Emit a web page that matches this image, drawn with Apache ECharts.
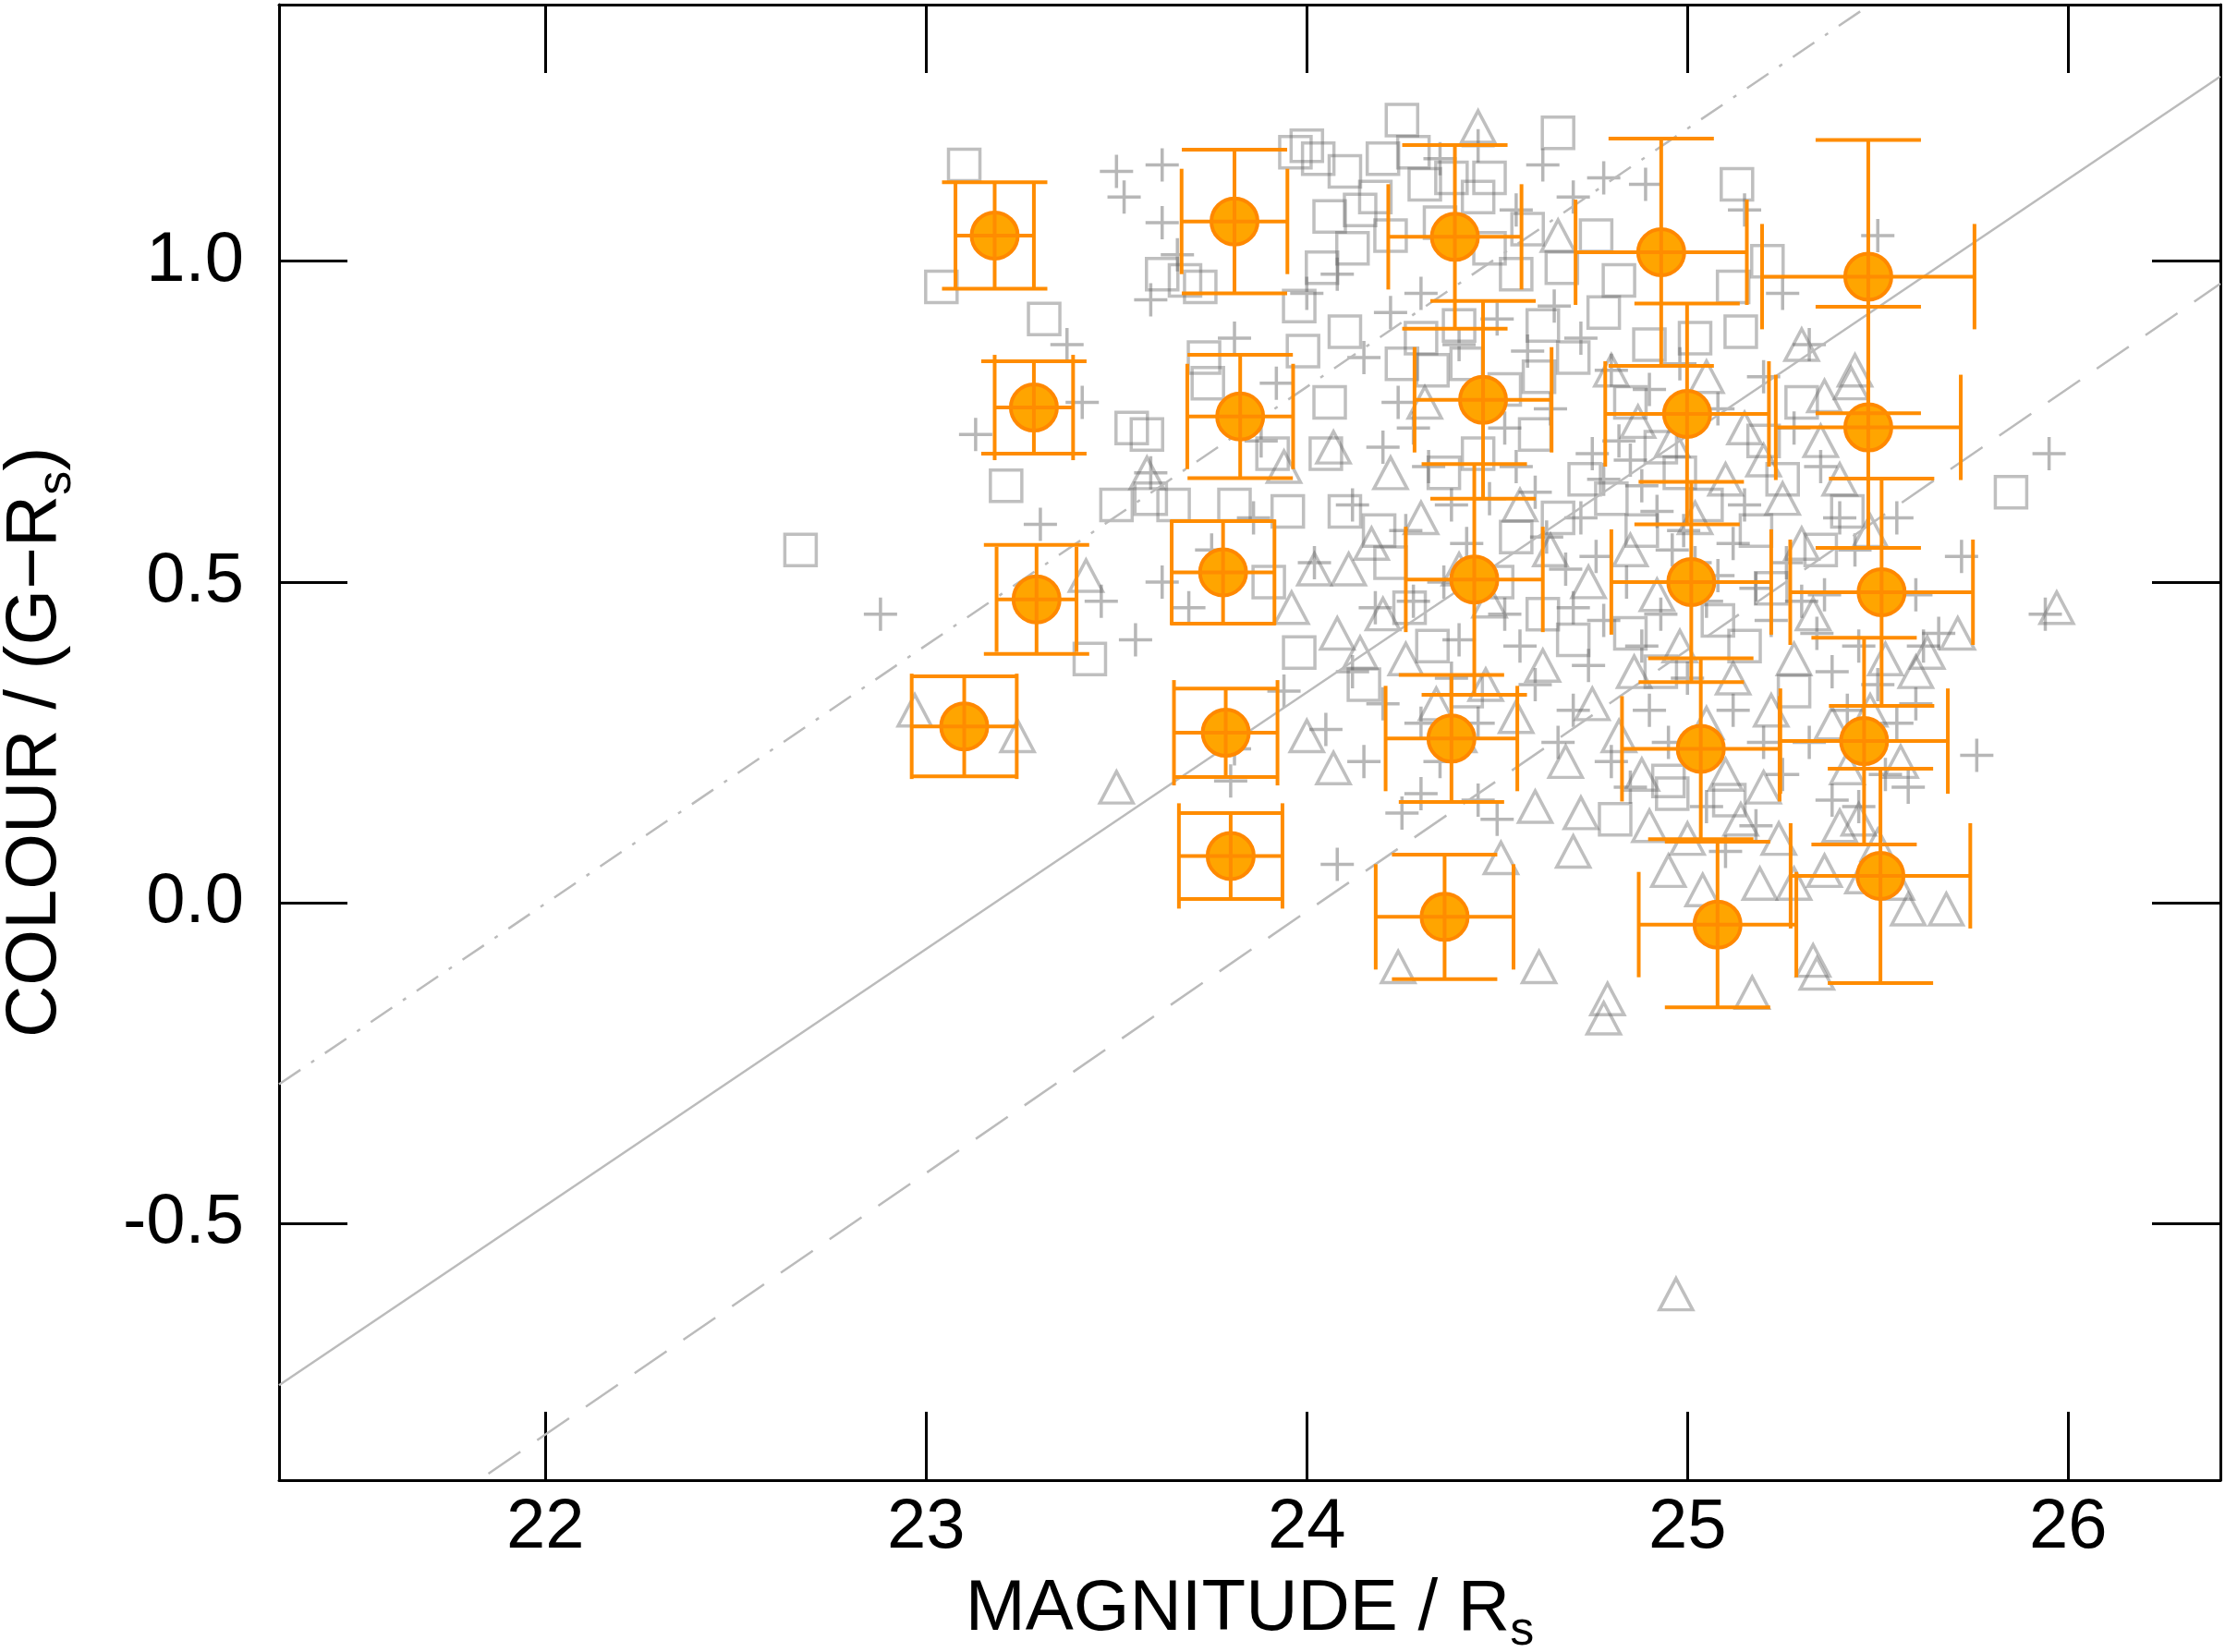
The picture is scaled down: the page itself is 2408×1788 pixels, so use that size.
<!DOCTYPE html>
<html>
<head>
<meta charset="utf-8">
<script src="https://cdn.jsdelivr.net/npm/echarts@6.0.0/dist/echarts.min.js"></script>
<style>
  html,body{margin:0;padding:0;background:#fff;}
  #main{width:2408px;height:1788px;}
</style>
</head>
<body>
<div id="main"></div>
<script>
// axis ticks
var xTicks = [22, 23, 24, 25, 26];
var yTicks = [-0.5, 0.0, 0.5, 1.0];

// highlighted sample (orange) with errors
var magX = [23.18, 23.81, 24.389, 24.931, 25.475, 23.283, 23.825, 24.463, 24.999, 25.475, 23.29, 23.78, 24.44, 25.01, 25.51, 23.10, 23.787, 24.38, 25.035, 25.464, 23.80, 24.362, 25.079, 25.507];
var colY = [1.04, 1.062, 1.038, 1.014, 0.976, 0.772, 0.758, 0.784, 0.762, 0.741, 0.473, 0.515, 0.504, 0.50, 0.484, 0.275, 0.265, 0.256, 0.24, 0.252, 0.073, -0.022, -0.034, 0.042];
var errX = [0.103, 0.139, 0.175, 0.225, 0.279, 0.103, 0.139, 0.18, 0.215, 0.243, 0.105, 0.135, 0.18, 0.21, 0.24, 0.138, 0.136, 0.173, 0.207, 0.22, 0.136, 0.181, 0.207, 0.236];
var errY = [0.083, 0.112, 0.143, 0.177, 0.213, 0.072, 0.096, 0.154, 0.172, 0.188, 0.085, 0.08, 0.18, 0.156, 0.177, 0.078, 0.069, 0.099, 0.141, 0.161, 0.067, 0.097, 0.129, 0.167];

// background samples
var squares = [[23.10,1.15],[23.04,0.96],[23.31,0.91],[23.21,0.65],[22.67,0.55],[23.43,0.38],
  [23.62,0.98],[23.68,0.97],[23.72,0.96],[23.74,0.81],[23.73,0.85],[23.65,0.62],[23.50,0.62],[23.59,0.63],[23.58,0.73],[23.54,0.74],[23.91,0.70],[23.81,0.62],[23.95,0.61],
  [23.97,1.17],[24.00,1.18],[24.10,1.14],[24.20,1.16],[24.14,1.08],[24.06,1.07],[24.25,1.22],[24.31,1.12],[24.38,1.13],[24.48,1.13],[24.48,1.02],[24.66,1.20],[24.18,1.10],[24.03,1.16],[24.28,1.17],[24.35,1.06],[24.45,1.10],[24.12,1.02],[24.22,1.04],[24.58,1.05],[24.55,0.98],[24.67,0.99],[24.76,1.04],
  [25.13,1.12],[25.21,1.00],[25.12,0.96],[25.14,0.89],[24.82,0.97],[24.78,0.92],[24.04,0.99],[23.98,0.93],[24.06,0.78],[23.99,0.86],[24.10,0.89],[24.30,0.88],[24.33,0.83],[24.25,0.84],[24.42,0.84],
  [24.10,0.61],[24.19,0.58],[24.22,0.53],[24.36,0.67],[24.45,0.70],[24.52,0.80],[24.61,0.82],[24.70,0.85],[24.85,0.78],[24.93,0.71],[24.98,0.67],[24.60,0.73],[24.73,0.66],[24.66,0.60],[24.55,0.57],[24.80,0.63],[24.88,0.58],[25.05,0.62],[25.20,0.72],[25.25,0.66],[25.30,0.78],[25.18,0.58],[24.40,0.90],[24.62,0.90],[24.90,0.87],[25.02,0.88],
  [24.50,0.50],[24.62,0.45],[24.70,0.41],[24.85,0.42],[24.93,0.36],[25.08,0.44],[25.15,0.40],[25.22,0.49],[25.35,0.55],[25.42,0.61],[25.28,0.33],
  [24.81,0.13],[24.95,0.19],[24.96,0.17],[25.11,0.16],[25.85,0.64],[24.27,0.46],[24.33,0.40],[24.15,0.34],[24.42,0.33],[23.98,0.39],[23.90,0.50],[24.05,0.70]];

var pluses = [[22.88,0.45],[23.30,0.59],[23.37,0.87],[23.13,0.73],[23.41,0.78],[23.50,1.14],[23.52,1.10],[23.62,1.15],[23.62,1.06],[23.59,0.94],[23.66,1.01],[23.59,0.67],[23.69,0.46],[23.75,0.55],[23.81,0.88],[23.80,0.19],[23.81,0.24],[24.08,0.06],
  [23.46,0.47],[23.55,0.41],[23.62,0.50],[23.88,0.72],[23.92,0.81],[23.86,0.60],[23.94,0.33],[24.02,0.53],[24.05,0.27],[24.12,0.36],[24.15,0.22],[24.20,0.31],[24.25,0.14],[24.30,0.17],[24.35,0.22],[24.45,0.16],[24.50,0.13],[24.38,0.35],[24.28,0.47],[24.18,0.46],
  [24.12,0.62],[24.20,0.71],[24.24,0.78],[24.28,0.74],[24.32,0.68],[24.38,0.62],[24.42,0.56],[24.48,0.63],[24.55,0.68],[24.60,0.64],[24.63,0.57],[24.68,0.52],[24.72,0.60],[24.75,0.70],[24.78,0.66],[24.82,0.72],[24.85,0.69],[24.88,0.65],[24.92,0.61],[24.96,0.55],[24.99,0.58],
  [25.02,0.53],[25.05,0.47],[25.08,0.51],[25.12,0.56],[25.15,0.62],[25.18,0.49],[25.22,0.44],[25.26,0.53],[25.30,0.47],[25.34,0.42],[25.38,0.36],[25.42,0.30],[25.45,0.40],[25.50,0.34],[25.55,0.28],[25.60,0.31],[25.66,0.42],[25.72,0.54],[25.76,0.23],[25.95,0.70],[25.94,0.45],
  [25.50,1.04],[25.15,1.08],[24.89,1.12],[24.78,1.13],[24.70,1.10],[24.62,1.15],[24.55,1.08],[24.45,1.18],[24.35,1.16],[24.30,0.95],[24.22,0.92],[24.15,0.85],[24.00,0.95],[24.08,0.98],[24.40,0.87],[24.50,0.91],[24.58,0.86],[24.65,0.93],[24.72,0.88],[24.80,0.83],
  [24.90,0.80],[24.98,0.84],[25.08,0.77],[25.20,0.82],[25.28,0.74],[25.35,0.68],[25.40,0.60],[25.32,0.87],[25.25,0.95],[24.84,0.50],[24.78,0.44],[24.74,0.37],[24.70,0.30],[24.66,0.25],[24.60,0.34],[24.56,0.40],[24.52,0.45],[24.90,0.30],[24.95,0.25],[25.00,0.35],
  [25.05,0.15],[25.10,0.08],[25.18,0.12],[25.25,0.20],[25.32,0.25],[25.45,0.15],[25.52,0.20],[24.85,0.18],[24.80,0.22],[24.40,0.41],[24.45,0.28],[24.88,0.40],[25.12,0.30],[25.20,0.25],[25.36,0.48],[25.44,0.55],[25.60,0.48],[25.55,0.60],[24.64,0.77],[24.52,0.74],
  [24.36,0.50],[24.26,0.58],[24.70,0.46],[24.76,0.54],[25.58,0.18],[25.62,0.40],[25.38,0.16],[24.30,0.28],[24.93,0.45]];

var triangles = [[22.97,0.30],[23.24,0.26],[23.50,0.18],[24.00,0.26],[24.07,0.21],[24.45,1.21],[24.24,-0.10],[24.61,-0.10],[24.51,0.07],[24.60,0.15],[24.72,0.14],[24.78,-0.18],[24.79,-0.15],[24.97,-0.61],[25.17,-0.14],[25.19,0.03],[25.33,-0.09],[25.34,-0.11],[25.68,-0.01],
  [25.97,0.46],[25.71,0.42],[25.63,0.39],[25.60,0.36],[25.44,0.83],[25.43,0.81],[25.30,0.87],[25.05,0.82],[24.66,1.04],[24.80,0.83],[24.87,0.75],[24.07,0.71],[23.94,0.68],[23.58,0.67],[23.42,0.51],[24.11,0.52],[24.17,0.56],[24.31,0.78],
  [24.08,0.42],[24.14,0.39],[24.20,0.45],[24.26,0.38],[24.34,0.31],[24.40,0.26],[24.47,0.34],[24.55,0.29],[24.62,0.37],[24.68,0.22],[24.75,0.31],[24.82,0.26],[24.86,0.36],[24.90,0.12],[24.95,0.05],[25.00,0.10],[25.04,0.02],[25.10,0.20],[25.14,0.13],[25.20,0.18],
  [25.24,0.10],[25.28,0.03],[25.36,0.05],[25.40,0.12],[25.46,0.04],[25.50,0.09],[25.55,0.03],[25.58,-0.01],[25.22,0.30],[25.28,0.38],[25.33,0.45],[25.38,0.28],[25.42,0.21],[25.48,0.30],[25.52,0.38],[25.56,0.22],[25.30,0.56],[25.25,0.63],[25.20,0.69],
  [25.15,0.74],[25.10,0.66],[25.02,0.60],[24.96,0.72],[25.35,0.72],[25.40,0.66],[25.48,0.58],[25.36,0.79],[24.85,0.55],[24.92,0.48],[24.98,0.40],[24.74,0.50],[24.64,0.55],[24.56,0.62],[24.48,0.47],[24.40,0.52],[24.30,0.60],[24.22,0.67],[24.02,0.52],[23.96,0.46],
  [25.05,0.28],[25.12,0.35],[25.45,0.13],[24.88,0.20],[24.70,0.08]];

// reference lines (end points)
var lineSolid = [[21.3, -0.752], [26.4, 1.288]];
var lineDash = [[21.85, -0.89], [26.4, 0.965]];
var lineDashDot = [[21.3, -0.283], [25.48, 1.4]];

var FONT = 'Liberation Sans';
var grey = 'rgba(100,100,100,0.52)';
var plusGrey = 'rgba(90,90,90,0.55)';
var lineGrey = '#bbbbbb';

var myChart = echarts.init(document.getElementById('main'));

function axisX(pos, show){
  return {
    type: 'value', position: pos, min: 21.3, max: 26.4,
    axisLine: {onZero: false, lineStyle: {color: '#000', width: 3}},
    axisTick: {inside: true, length: 74, customValues: xTicks, lineStyle: {color: '#000', width: 3}},
    axisLabel: {show: show, customValues: xTicks, margin: 14, fontSize: 76, color: '#000', fontFamily: FONT},
    splitLine: {show: false}
  };
}
function axisY(pos, show){
  return {
    type: 'value', position: pos, min: -0.9, max: 1.4,
    axisLine: {onZero: false, lineStyle: {color: '#000', width: 3}},
    axisTick: {inside: true, length: 74, customValues: yTicks, lineStyle: {color: '#000', width: 3}},
    axisLabel: {show: show, customValues: yTicks, margin: 38, fontSize: 76, color: '#000', fontFamily: FONT,
      formatter: function(v){ return v.toFixed(1); }},
    splitLine: {show: false}
  };
}

var xb = axisX('bottom', true);
xb.name = 'MAGNITUDE / R{s|s}';
xb.nameLocation = 'middle';
xb.nameGap = 90;
xb.nameMoveOverlap = false;
xb.nameTextStyle = {fontSize: 78, color: '#000', fontFamily: FONT,
  rich: {s: {fontSize: 52, color: '#000', fontFamily: FONT, padding: [48, 0, 0, 0]}}};
var xt = axisX('top', false);

var yl = axisY('left', true);
yl.name = 'COLOUR / (G\u2212R{s|s})';
yl.nameLocation = 'middle';
yl.nameGap = 214;
yl.nameMoveOverlap = false;
yl.nameTextStyle = {fontSize: 78, color: '#000', fontFamily: FONT,
  rich: {s: {fontSize: 52, color: '#000', fontFamily: FONT, padding: [48, 0, 0, 0]}}};
var yr = axisY('right', false);

var orangeData = magX.map(function(x, i){ return [x, colY[i], errX[i], errY[i]]; });

var option = {
  animation: false,
  backgroundColor: '#fff',
  grid: {left: 302, right: 5, top: 5, bottom: 186, outerBoundsMode: 'none', containLabel: false},
  xAxis: [xb, xt],
  yAxis: [yl, yr],
  series: [
    {type: 'line', data: lineSolid, symbol: 'none', silent: true,
      lineStyle: {color: lineGrey, width: 2.5}},
    {type: 'line', data: lineDash, symbol: 'none', silent: true,
      lineStyle: {color: lineGrey, width: 2.5, type: [42, 22]}},
    {type: 'line', data: lineDashDot, symbol: 'none', silent: true,
      lineStyle: {color: lineGrey, width: 2.5, type: [28, 14, 4, 14]}},
    {type: 'scatter', data: squares, symbol: 'rect', symbolSize: 34,
      itemStyle: {color: 'transparent', borderColor: grey, borderWidth: 3.5}},
    {type: 'scatter', data: pluses, symbol: 'path://M0 5H10M5 0V10', symbolSize: 36,
      itemStyle: {color: 'transparent', borderColor: plusGrey, borderWidth: 3.5}},
    {type: 'scatter', data: triangles, symbol: 'triangle', symbolSize: [36, 34],
      itemStyle: {color: 'transparent', borderColor: grey, borderWidth: 3.5}},
    {type: 'scatter', data: orangeData, symbolSize: 50, z: 5,
      itemStyle: {color: '#ffa500', borderColor: '#ff8800', borderWidth: 4, opacity: 1}},
    {
      type: 'custom', data: orangeData, z: 6,
      renderItem: function(params, api){
        var x = api.value(0), y = api.value(1), ex = api.value(2), ey = api.value(3);
        var l = api.coord([x - ex, y]), r = api.coord([x + ex, y]);
        var t = api.coord([x, y + ey]), b = api.coord([x, y - ey]);
        var h = 57; // half cap length
        var st = {stroke: '#ff8c00', lineWidth: 4};
        function seg(x1, y1, x2, y2){
          return {type: 'line', shape: {x1: x1, y1: y1, x2: x2, y2: y2}, style: st};
        }
        return {type: 'group', children: [
          seg(l[0], l[1], r[0], r[1]),
          seg(t[0], t[1], b[0], b[1]),
          seg(l[0], l[1] - h, l[0], l[1] + h),
          seg(r[0], r[1] - h, r[0], r[1] + h),
          seg(t[0] - h, t[1], t[0] + h, t[1]),
          seg(b[0] - h, b[1], b[0] + h, b[1])
        ]};
      }
    }
  ]
};

myChart.setOption(option);
</script>
</body>
</html>
